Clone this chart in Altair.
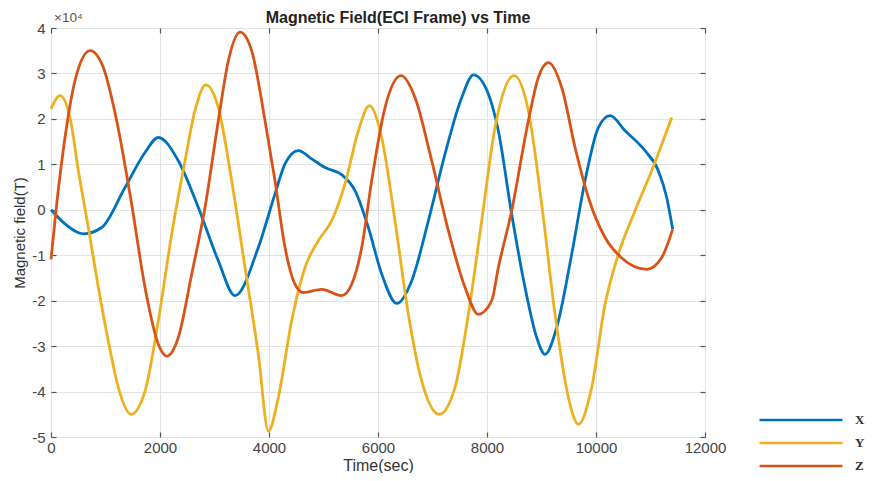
import altair as alt
import pandas as pd

# ---- data (units of 1e4 T) ----
t_x = [0, 257, 593, 930, 1358, 1725, 1969, 2336, 2703, 3070, 3376, 3804, 4110, 4294, 4538, 4783,
       5028, 5334, 5578, 5823, 6067, 6343, 6619, 6925, 7230, 7536, 7750, 8025, 8208, 8453, 8698,
       8912, 9065, 9279, 9554, 9799, 10043, 10258, 10533, 10900, 11144, 11297, 11407]
v_x = [0.0, -0.31, -0.53, -0.39, 0.49, 1.26, 1.59, 1.08, 0.05, -1.12, -1.89, -0.83, 0.35, 1.01,
       1.30, 1.12, 0.93, 0.77, 0.42, -0.39, -1.41, -2.06, -1.56, -0.24, 1.23, 2.47, 2.97, 2.55,
       1.74, -0.10, -1.71, -2.81, -3.18, -2.59, -0.98, 0.64, 1.81, 2.07, 1.74, 1.30, 0.86, 0.27,
       -0.43]

t_y = [0, 165, 349, 502, 685, 869, 1052, 1235, 1468, 1725, 1969, 2214, 2459, 2642, 2838, 3070,
       3315, 3560, 3804, 3990, 4171, 4416, 4661, 4906, 5150, 5395, 5640, 5841, 6067, 6312, 6557,
       6802, 7125, 7413, 7658, 7903, 8147, 8496, 8759, 9004, 9248, 9493, 9677, 9921, 10166,
       10410, 10716, 11022, 11389]
v_y = [2.22, 2.51, 2.03, 0.86, -0.39, -1.71, -2.89, -3.91, -4.50, -3.99, -2.44, -0.54, 1.08,
       2.18, 2.75, 2.25, 0.64, -1.27, -3.18, -4.87, -4.13, -2.44, -1.27, -0.68, -0.24, 0.57,
       1.74, 2.29, 1.59, -0.24, -2.30, -3.77, -4.50, -3.91, -2.30, -0.24, 1.81, 2.95, 2.18,
       0.12, -2.30, -4.13, -4.72, -3.91, -2.08, -0.98, -0.02, 0.86, 2.03]

t_z = [0, 104, 257, 440, 716, 960, 1205, 1480, 1725, 1969, 2122, 2336, 2581, 2826, 3070, 3254,
       3468, 3682, 3927, 4110, 4294, 4477, 4630, 4967, 5334, 5517, 5701, 5884, 6129, 6422, 6679,
       6985, 7291, 7597, 7842, 8086, 8208, 8453, 8759, 8942, 9126, 9371, 9616, 9860, 10166,
       10472, 10931, 11206, 11407]
v_z = [-1.09, 0.12, 1.59, 2.84, 3.50, 3.13, 1.96, 0.12, -1.71, -2.96, -3.22, -2.81, -1.42, 0.05,
       1.96, 3.28, 3.91, 3.50, 1.96, 0.64, -0.83, -1.64, -1.82, -1.75, -1.89, -1.64, -0.83, 0.64,
       2.25, 2.95, 2.47, 1.08, -0.46, -1.71, -2.30, -2.00, -1.27, -0.02, 1.96, 2.91, 3.24, 2.69,
       1.37, 0.27, -0.61, -1.06, -1.31, -1.05, -0.43]

series_names = ["X", "Y", "Z"]
series_colors = ["#0072BD", "#EDB120", "#D95319"]
x_ticks = [0, 2000, 4000, 6000, 8000, 10000, 12000]
y_ticks = [-5, -4, -3, -2, -1, 0, 1, 2, 3, 4]
exponent_label = ["×10⁴"]
title_text = ["Magnetic Field(ECI Frame) vs Time"]

rows = []
for name, ts, vs in zip(series_names, [t_x, t_y, t_z], [v_x, v_y, v_z]):
    for t, v in zip(ts, vs):
        rows.append({"t": t, "v": v, "series": name})
df = pd.DataFrame(rows)

W, H = 654, 409
FONT = "Liberation Sans"

xscale = alt.Scale(domain=[0, 12000], nice=False, zero=False)
yscale = alt.Scale(domain=[-5, 4], nice=False, zero=False)

lines = alt.Chart(df).mark_line(strokeWidth=2.8, interpolate="monotone").encode(
    x=alt.X("t:Q", scale=xscale, axis=alt.Axis(
        values=x_ticks, title="Time(sec)", grid=True, ticks=False, domain=False,
        labelExpr="datum.value + ''",
        labelFontSize=15, labelColor="#444", labelFont=FONT, labelPadding=3,
        titleFontSize=16, titleFont=FONT, titleColor="#333", titleFontWeight="normal",
        titlePadding=2, gridColor="#e3e3e3", labelFlush=False)),
    y=alt.Y("v:Q", scale=yscale, axis=alt.Axis(
        values=y_ticks, title="Magnetic field(T)", grid=True, ticks=False, domain=False,
        labelExpr="datum.value + ''",
        labelFontSize=15, labelColor="#444", labelFont=FONT, labelPadding=6,
        titleFontSize=15, titleFont=FONT, titleColor="#333", titleFontWeight="normal",
        titlePadding=4, gridColor="#e3e3e3", labelFlush=False)),
    color=alt.Color("series:N", scale=alt.Scale(domain=series_names, range=series_colors),
                    legend=alt.Legend(title=None, orient="none", legendX=738, legendY=380,
                                      symbolType="M-4,0H4", symbolSize=430,
                                      symbolStrokeWidth=2.5, labelFont="Liberation Serif",
                                      labelFontWeight="bold", labelFontSize=13,
                                      labelColor="#333", labelOffset=42, rowPadding=4,
                                      padding=0)),
)

ticks_a = alt.Chart(df).mark_line(opacity=0).encode(
    x=alt.X("t:Q", scale=xscale, axis=alt.Axis(
        orient="top", offset=-H, values=x_ticks, labels=False, domain=False, grid=False,
        ticks=True, tickSize=5, tickColor="#555", tickWidth=1.2, title=None)),
    y=alt.Y("v:Q", scale=yscale, axis=alt.Axis(
        orient="right", offset=-W, values=y_ticks, labels=False, domain=False, grid=False,
        ticks=True, tickSize=5, tickColor="#555", tickWidth=1.2, title=None)),
)

ticks_b = alt.Chart(df).mark_line(opacity=0).encode(
    x=alt.X("t:Q", scale=xscale, axis=alt.Axis(
        orient="bottom", offset=-H, values=x_ticks, labels=False, domain=False, grid=False,
        ticks=True, tickSize=5, tickColor="#555", tickWidth=1.2, title=None)),
    y=alt.Y("v:Q", scale=yscale, axis=alt.Axis(
        orient="left", offset=-W, values=y_ticks, labels=False, domain=False, grid=False,
        ticks=True, tickSize=5, tickColor="#555", tickWidth=1.2, title=None)),
)

expo = alt.Chart(pd.DataFrame({"txt": exponent_label})).mark_text(
    align="left", baseline="middle", fontSize=13.5, color="#555", font=FONT
).encode(text="txt:N", x=alt.value(3), y=alt.value(-10))

title = alt.Chart(pd.DataFrame({"txt": title_text})).mark_text(
    align="center", baseline="middle", fontSize=16, fontWeight="bold", color="#222", font=FONT
).encode(text="txt:N", x=alt.value(W / 2 + 20), y=alt.value(-10))

chart = alt.layer(lines, ticks_a, ticks_b, expo, title).resolve_axis(
    x="independent", y="independent"
).properties(
    width=W, height=H,
    padding={"left": 43, "top": 20, "right": 162, "bottom": 36},
    autosize=alt.AutoSizeParams(type="none"),
).configure_view(stroke="#666", strokeWidth=1.3).configure(background="white")

chart.save("out.html", embed_options={"renderer": "svg", "actions": False})
